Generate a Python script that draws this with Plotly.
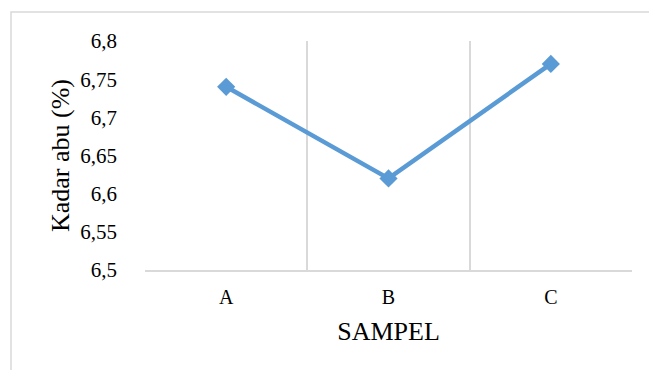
import plotly.graph_objects as go

# Ash content per sample
samples = ["A", "B", "C"]
ash_content = [6.74, 6.62, 6.77]

y_ticks = [6.5, 6.55, 6.6, 6.65, 6.7, 6.75, 6.8]
y_tick_text = ["6,5", "6,55", "6,6", "6,65", "6,7", "6,75", "6,8"]

BLUE = "#5B9BD5"
GRID = "#D9D9D9"
FONT = "Liberation Serif"

fig = go.Figure(
    go.Scatter(
        x=samples,
        y=ash_content,
        mode="lines+markers",
        line=dict(color=BLUE, width=4.5),
        marker=dict(symbol="diamond", size=14, color=BLUE),
        cliponaxis=False,
    )
)

L, R, T, B = 145, 17, 41, 100
W, H = 649, 370
pw, ph = W - L - R, H - T - B

fig.update_layout(
    width=W,
    height=H,
    margin=dict(l=L, r=R, t=T, b=B),
    paper_bgcolor="white",
    plot_bgcolor="white",
    showlegend=False,
    font=dict(family=FONT, color="black"),
    xaxis=dict(
        type="category",
        range=[-0.5, len(samples) - 0.5],
        tickson="boundaries",
        showgrid=True,
        gridcolor=GRID,
        gridwidth=2,
        showline=True,
        linecolor=GRID,
        linewidth=2,
        ticks="",
        ticklabelstandoff=8,
        tickfont=dict(size=20, family=FONT),
        title=dict(text="SAMPEL", font=dict(size=26, family=FONT), standoff=15),
        zeroline=False,
    ),
    yaxis=dict(
        range=[6.5, 6.8],
        tickvals=y_ticks,
        ticktext=y_tick_text,
        showgrid=False,
        showline=False,
        zeroline=False,
        ticks="",
        ticklabelstandoff=27,
        tickfont=dict(size=21, family=FONT),
        title=dict(text="Kadar abu (%)", font=dict(size=26, family=FONT), standoff=3),
    ),
    shapes=[
        dict(
            type="rect",
            xref="paper",
            yref="paper",
            x0=(11 - L) / pw,
            x1=(W + 20 - L) / pw,
            y0=-(H + 20 - T - ph) / ph,
            y1=(H - B - 12) / ph,
            line=dict(color=GRID, width=1.5),
            fillcolor="rgba(0,0,0,0)",
            layer="below",
        )
    ],
)

fig.write_html("out.html")
